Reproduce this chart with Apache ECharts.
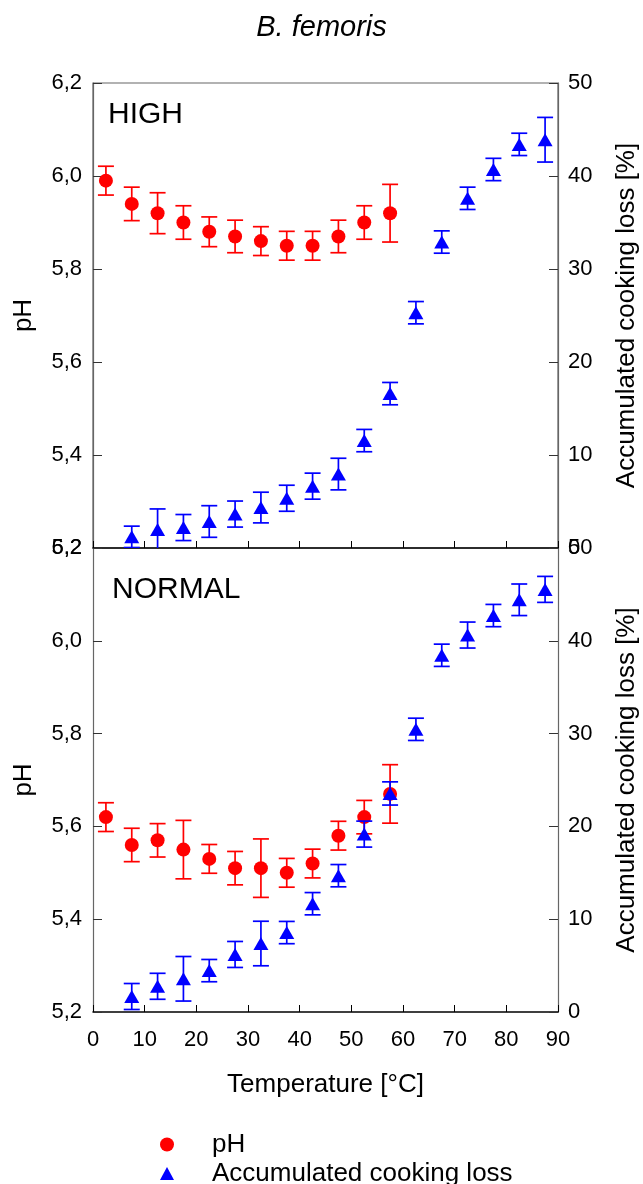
<!DOCTYPE html>
<html>
<head>
<meta charset="utf-8">
<script src="https://cdn.jsdelivr.net/npm/echarts@6/dist/echarts.min.js"></script>
<style>
html,body{margin:0;padding:0;background:#fff;}
#chart{width:643px;height:1184px;}
</style>
</head>
<body>
<div id="chart"></div>
<script>
// ---- data ----
const tempPH   = [2.5, 7.5, 12.5, 17.5, 22.5, 27.5, 32.5, 37.5, 42.5, 47.5, 52.5, 57.5];
const tempLoss = [7.5, 12.5, 17.5, 22.5, 27.5, 32.5, 37.5, 42.5, 47.5, 52.5, 57.5, 62.5, 67.5, 72.5, 77.5, 82.5, 87.5];

const phHigh      = [5.99, 5.94, 5.92, 5.90, 5.88, 5.87, 5.86, 5.85, 5.85, 5.87, 5.90, 5.92];
const phHighErr   = [0.031, 0.036, 0.044, 0.036, 0.032, 0.035, 0.031, 0.031, 0.031, 0.035, 0.036, 0.062];
const lossHigh    = [1.2, 2.0, 2.2, 2.85, 3.65, 4.35, 5.35, 6.65, 7.95, 11.55, 16.6, 25.3, 32.9, 37.6, 40.7, 43.4, 43.9];
const lossHighErr = [1.15, 2.2, 1.4, 1.7, 1.4, 1.65, 1.4, 1.4, 1.7, 1.2, 1.2, 1.2, 1.2, 1.2, 1.2, 1.2, 2.4];

const phNormal      = [5.62, 5.56, 5.57, 5.55, 5.53, 5.51, 5.51, 5.50, 5.52, 5.58, 5.62, 5.67];
const phNormalErr   = [0.031, 0.036, 0.036, 0.063, 0.031, 0.036, 0.063, 0.031, 0.031, 0.031, 0.036, 0.063];
const lossNormal    = [1.67, 2.77, 3.58, 4.46, 6.2, 7.38, 8.56, 11.67, 14.69, 19.17, 23.55, 30.46, 38.44, 40.62, 42.72, 44.42, 45.54];
const lossNormalErr = [1.4, 1.4, 2.4, 1.2, 1.4, 2.4, 1.2, 1.2, 1.2, 1.4, 1.25, 1.2, 1.2, 1.4, 1.2, 1.7, 1.4];

const xTicks = {min: 0, max: 90, interval: 10};
const phTicks = {min: 5.2, max: 6.2, interval: 0.2};
const lossTicks = {min: 0, max: 50, interval: 10};

const panelLabels = ['HIGH', 'NORMAL'];
const titleText = 'B. femoris';
const xName = 'Temperature [°C]';
const phName = 'pH';
const lossName = 'Accumulated cooking loss [%]';
const legendPH = 'pH';
const legendLoss = 'Accumulated cooking loss';

// ---- helpers ----
const FONT = '"Liberation Sans", Arial, Helvetica, sans-serif';
const RED = '#ff0000', BLUE = '#0000ff';

function zip3(xs, ys, es) { return xs.map((x, i) => [x, ys[i], es[i]]); }
function zip2(xs, ys) { return xs.map((x, i) => [x, ys[i]]); }

function errRender(color) {
  return function (params, api) {
    const x = api.value(0), y = api.value(1), e = api.value(2);
    const top = api.coord([x, y + e]);
    const bot = api.coord([x, y - e]);
    const w = 8;
    const st = {stroke: color, lineWidth: 1.7};
    return {
      type: 'group',
      children: [
        {type: 'line', shape: {x1: top[0], y1: top[1], x2: bot[0], y2: bot[1]}, style: st},
        {type: 'line', shape: {x1: top[0] - w, y1: top[1], x2: top[0] + w, y2: top[1]}, style: st},
        {type: 'line', shape: {x1: bot[0] - w, y1: bot[1], x2: bot[0] + w, y2: bot[1]}, style: st}
      ]
    };
  };
}

function xAxisCfg(gi, showLabels) {
  return {
    gridIndex: gi, type: 'value', min: xTicks.min, max: xTicks.max, interval: xTicks.interval,
    axisLine: {show: true, lineStyle: {color: '#000', width: 1.5}},
    axisTick: {show: true, inside: true, length: 7, lineStyle: {color: '#000', width: 1}},
    axisLabel: {show: showLabels, color: '#000', fontSize: 22, fontFamily: FONT, margin: 17},
    splitLine: {show: false},
    name: showLabels ? xName : '',
    nameLocation: 'middle', nameGap: 60,
    nameTextStyle: {color: '#000', fontSize: 26, fontFamily: FONT}
  };
}
function phAxisCfg(gi) {
  return {
    gridIndex: gi, type: 'value', position: 'left', min: phTicks.min, max: phTicks.max, interval: phTicks.interval,
    axisLine: {show: true, lineStyle: {color: '#666', width: 1.2}},
    axisTick: {show: true, inside: true, length: 9, lineStyle: {color: '#333', width: 1}},
    axisLabel: {color: '#000', fontSize: 22, fontFamily: FONT, margin: 11,
      formatter: v => v.toFixed(1).replace('.', ',')},
    splitLine: {show: false},
    name: phName, nameLocation: 'middle', nameRotate: 90, nameGap: 56,
    nameTextStyle: {color: '#000', fontSize: 26, fontFamily: FONT}
  };
}
function lossAxisCfg(gi) {
  return {
    gridIndex: gi, type: 'value', position: 'right', min: lossTicks.min, max: lossTicks.max, interval: lossTicks.interval,
    axisLine: {show: true, lineStyle: {color: '#666', width: 1.2}},
    axisTick: {show: true, inside: true, length: 9, lineStyle: {color: '#333', width: 1}},
    axisLabel: {color: '#000', fontSize: 22, fontFamily: FONT, margin: 10},
    splitLine: {show: false},
    name: lossName, nameLocation: 'middle', nameRotate: 90, nameGap: 56,
    nameTextStyle: {color: '#000', fontSize: 26, fontFamily: FONT}
  };
}

function panelSeries(xi, yPH, yLoss, ph, phErr, loss, lossErr) {
  return [
    {type: 'custom', name: legendPH + '_err', xAxisIndex: xi, yAxisIndex: yPH, z: 2, clip: true,
     renderItem: errRender(RED), encode: {x: 0, y: 1}, data: zip3(tempPH, ph, phErr), silent: true},
    {type: 'scatter', name: legendPH, xAxisIndex: xi, yAxisIndex: yPH, z: 3, symbol: 'circle', symbolSize: 14,
     itemStyle: {color: RED, opacity: 1}, data: zip2(tempPH, ph)},
    {type: 'custom', name: legendLoss + '_err', xAxisIndex: xi, yAxisIndex: yLoss, z: 4, clip: true,
     renderItem: errRender(BLUE), encode: {x: 0, y: 1}, data: zip3(tempLoss, loss, lossErr), silent: true},
    {type: 'scatter', name: legendLoss, xAxisIndex: xi, yAxisIndex: yLoss, z: 5, symbol: 'triangle', symbolSize: [15, 13],
     itemStyle: {color: BLUE, opacity: 1}, data: zip2(tempLoss, loss)}
  ];
}

function legendCfg(top, name, icon, w, h) {
  return {
    orient: 'vertical', left: 155, top: top, itemWidth: w, itemHeight: h, itemGap: 0,
    selectedMode: false,
    textStyle: {fontSize: 26, color: '#000', fontFamily: FONT, lineHeight: 29, padding: [0, 0, 0, 33]},
    data: [{name: name, icon: icon}]
  };
}

const chart = echarts.init(document.getElementById('chart'), null, {renderer: 'canvas'});
chart.setOption({
  backgroundColor: '#fff',
  animation: false,
  title: [
    {text: titleText, left: 'center', top: 8,
     textStyle: {fontSize: 29, fontStyle: 'italic', fontWeight: 'normal', color: '#000', fontFamily: FONT}},
    {text: panelLabels[0], left: 103, top: 95,
     textStyle: {fontSize: 30, fontWeight: 'normal', color: '#000', fontFamily: FONT}},
    {text: panelLabels[1], left: 107, top: 570,
     textStyle: {fontSize: 30, fontWeight: 'normal', color: '#000', fontFamily: FONT}}
  ],
  grid: [
    {left: 93, top: 83, width: 465, height: 465, outerBoundsMode: 'none', containLabel: false,
     show: true, borderColor: '#666', borderWidth: 1.2, backgroundColor: 'transparent'},
    {left: 93, top: 548, width: 465, height: 464, outerBoundsMode: 'none', containLabel: false, show: false}
  ],
  xAxis: [xAxisCfg(0, false), xAxisCfg(1, true)],
  yAxis: [phAxisCfg(0), lossAxisCfg(0), phAxisCfg(1), lossAxisCfg(1)],
  legend: [
    legendCfg(1125, legendPH, 'circle', 14, 14),
    legendCfg(1154, legendLoss, 'triangle', 14, 13)
  ],
  series: [].concat(
    panelSeries(0, 0, 1, phHigh, phHighErr, lossHigh, lossHighErr),
    panelSeries(1, 2, 3, phNormal, phNormalErr, lossNormal, lossNormalErr)
  )
});
</script>
</body>
</html>
